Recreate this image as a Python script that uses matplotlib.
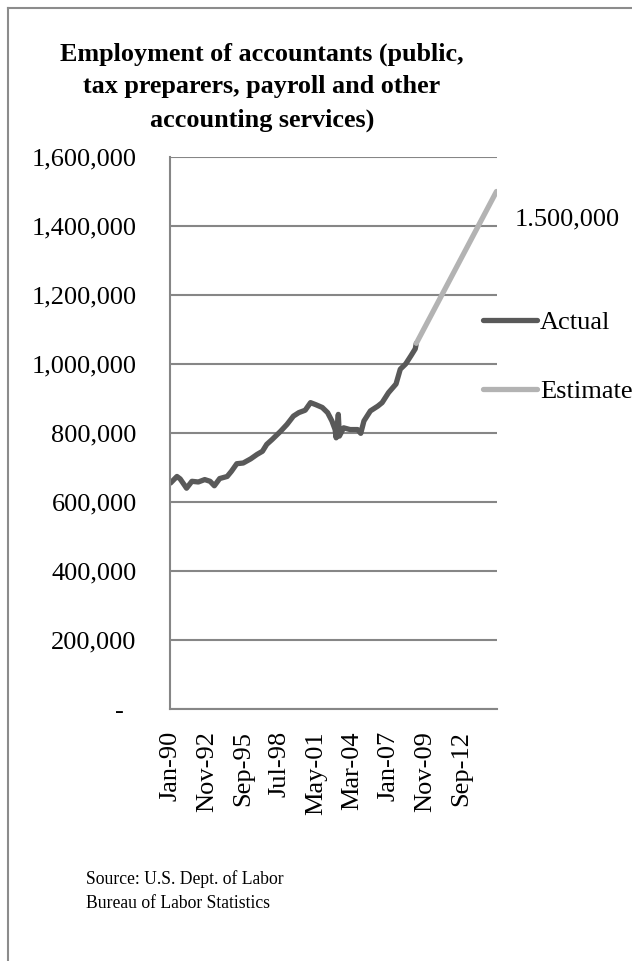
import matplotlib
matplotlib.use("Agg")
import matplotlib.pyplot as plt
from matplotlib.lines import Line2D
from matplotlib.ticker import FuncFormatter
import pandas as pd

# actual series (year-month, employees)
act_months = ["1990-01", "1990-07", "1990-10", "1991-04", "1991-09", "1992-03",
              "1992-09", "1993-02", "1993-06", "1993-11", "1994-06", "1994-10",
              "1995-03", "1995-09", "1996-04", "1996-10", "1997-03", "1997-07",
              "1997-12", "1998-08", "1999-02", "1999-08", "2000-01", "2000-07",
              "2000-12", "2001-05", "2001-11", "2002-04", "2002-08", "2002-11",
              "2002-12", "2003-02", "2003-03", "2003-07", "2004-01", "2004-08",
              "2004-11", "2005-02", "2005-08", "2006-03", "2006-07", "2007-01",
              "2007-08", "2007-12", "2008-05", "2008-10", "2009-02", "2009-03"]
act_values = [655000, 674000, 667000, 640000, 660000, 658000,
              665000, 660000, 647000, 668000, 674000, 689000,
              711000, 713000, 725000, 738000, 747000, 767000,
              781000, 805000, 825000, 849000, 859000, 866000,
              888000, 882000, 874000, 859000, 835000, 810000,
              786000, 854000, 791000, 815000, 810000, 810000,
              799000, 835000, 864000, 878000, 888000, 917000,
              942000, 985000, 1000000, 1024000, 1044000, 1060000]

est_months = ["2009-03", "2015-06"]
est_values = [1060000, 1500000]

start = pd.Period("1990-01", freq="M")
end = pd.Period("2015-06", freq="M")
n_cat = (end - start).n + 1
tick_step = 34


def month_idx(s):
    return (pd.Period(s, freq="M") - start).n


act_x = [month_idx(m) for m in act_months]
est_x = [month_idx(m) for m in est_months]

W, H = 632, 961
fig = plt.figure(figsize=(W / 100, H / 100), dpi=100)
plt.rcParams['font.family'] = ['Liberation Serif', 'DejaVu Serif']

ax = fig.add_axes([170 / W, 1 - 709 / H, (497 - 170) / W, (709 - 157) / H])

dark = "#595959"
light = "#b3b3b3"
grid = "#868686"

ax.plot(act_x, act_values, color=dark, lw=3.8, solid_capstyle="round",
        solid_joinstyle="round", label="Actual", zorder=3)
ax.plot(est_x, est_values, color=light, lw=3.8, solid_capstyle="round",
        label="Estimate", zorder=3)

ax.set_xlim(-0.5, n_cat - 0.5)
ax.set_ylim(0, 1600000)
ax.set_yticks(range(0, 1600001, 200000))
ax.yaxis.set_major_formatter(FuncFormatter(lambda v, p: "-  " if v == 0 else f"{v:,.0f}"))

ticks = list(range(0, n_cat, tick_step))
ax.set_xticks(ticks)
ax.set_xticklabels([(start + t).strftime("%b-%y") for t in ticks], rotation=90)

ax.tick_params(axis="y", length=0, pad=24, labelsize=19)
ax.tick_params(axis="x", length=0, pad=16, labelsize=19)
ax.grid(axis="y", color=grid, lw=1.5)
ax.set_axisbelow(True)
for s in ["top", "right"]:
    ax.spines[s].set_visible(False)
for s in ["left", "bottom"]:
    ax.spines[s].set_color(grid)
    ax.spines[s].set_linewidth(1.5)
    ax.spines[s].set_zorder(4)

ax.annotate("1.500,000", xy=(est_x[-1], est_values[-1]), xytext=(18, -28),
            textcoords="offset pixels", ha="left", va="center", fontsize=19,
            annotation_clip=False)

fig.legend(loc="upper left", bbox_to_anchor=(483 / W, 1 - 311 / H),
           frameon=False, fontsize=19, handlelength=2.05, handletextpad=0.1,
           labelspacing=1.72, borderpad=0, borderaxespad=0)

fig.text(262 / W, 1 - 87 / H,
         "Employment of accountants (public,\ntax preparers, payroll and other\naccounting services)",
         ha="center", va="center", fontsize=18.8, fontweight="bold", linespacing=1.55)

fig.text(86 / W, 1 - 891 / H, "Source: U.S. Dept. of Labor\nBureau of Labor Statistics",
         ha="left", va="center", fontsize=12.7, linespacing=1.5)

# chart border (only top and left fall inside the image)
fig.add_artist(Line2D([8 / W, 8 / W], [1 - 8 / H, -0.1], transform=fig.transFigure,
                      color="#8c8c8c", lw=1.5))
fig.add_artist(Line2D([8 / W, 1.1], [1 - 8 / H, 1 - 8 / H], transform=fig.transFigure,
                      color="#8c8c8c", lw=1.5))

fig.savefig("out.png", dpi=100)
